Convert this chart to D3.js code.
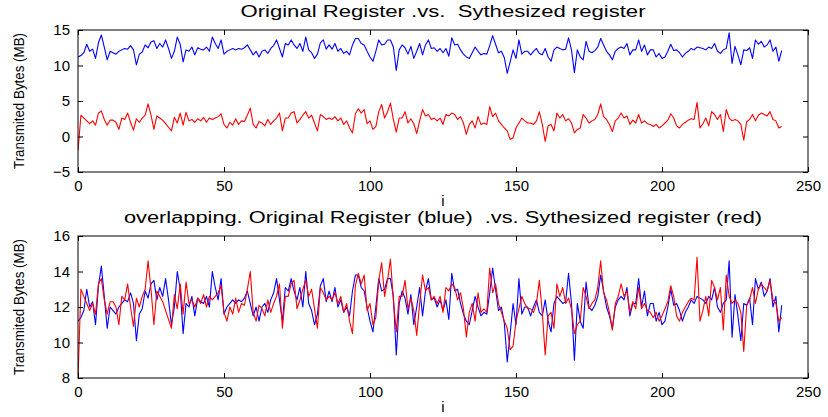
<!DOCTYPE html>
<html><head><meta charset="utf-8">
<script src="https://cdn.jsdelivr.net/npm/d3@7/dist/d3.min.js"></script>
<style>
body{margin:0;background:#fff;}
svg{display:block;}
text{font-family:"Liberation Sans",Arial,sans-serif;fill:#000;}
</style>
</head><body>
<svg id="chart" width="828" height="417"></svg>
<script>
// Original register (blue)
const original = [
11.2,11.4,11.8,13.0,12.0,12.3,11.0,13.2,14.3,12.6,10.8,12.0,11.8,11.6,12.0,12.2,12.4,12.3,12.8,12.2,
10.1,11.6,11.9,12.9,12.5,13.3,13.5,12.4,13.1,12.6,13.6,12.4,11.0,12.0,14.0,13.0,10.5,12.2,12.0,12.6,
11.5,12.5,12.3,12.2,12.6,12.0,14.0,13.1,12.4,13.6,11.6,12.0,12.2,12.4,12.2,12.4,12.3,12.5,12.9,12.2,
11.5,12.0,11.2,12.0,12.2,11.7,12.4,12.8,13.6,12.4,11.2,13.1,12.9,13.6,12.9,12.4,13.1,12.0,14.0,12.2,
11.8,11.0,11.6,13.2,13.6,12.3,12.9,12.3,13.1,12.0,12.4,11.7,12.0,11.5,12.9,13.8,13.8,13.1,12.9,12.0,
11.2,10.6,12.0,13.6,12.9,13.0,13.6,13.6,12.6,9.3,12.2,12.9,12.5,11.6,12.7,11.0,12.0,13.1,11.5,12.9,
13.6,12.4,12.5,12.0,12.4,11.8,12.4,11.3,13.9,12.9,13.0,12.2,11.6,11.2,11.0,11.8,12.6,12.0,11.5,11.7,
11.6,12.8,14.2,13.0,11.8,12.0,11.1,8.9,10.5,12.2,11.0,13.6,11.6,12.0,12.0,11.5,12.0,12.4,11.7,11.5,
12.4,11.2,10.6,12.2,12.6,12.4,12.2,12.3,13.9,12.2,9.0,12.2,11.2,10.8,13.4,12.0,11.8,12.1,12.6,13.8,
12.9,12.0,11.5,10.8,12.0,12.4,12.6,12.4,13.1,11.5,12.2,12.2,13.6,12.0,12.9,11.5,12.2,12.2,11.2,11.7,
11.0,11.2,12.0,13.0,12.1,12.2,11.8,11.2,11.7,12.0,12.4,12.2,12.6,12.5,12.4,12.2,12.6,12.4,13.1,12.0,
11.7,12.2,12.4,14.6,10.3,12.7,11.5,10.1,12.2,12.1,12.5,11.0,13.6,13.0,13.4,12.6,12.9,13.6,12.0,12.6,
10.6,12.1
];
// Synthesized register (red), read from the lower (overlapping) panel
const synthesized = [
8.0,13.0,12.6,12.2,11.8,12.2,11.6,13.3,13.6,12.4,11.6,12.3,12.3,12.0,11.0,12.6,12.4,13.3,12.0,10.9,
12.5,12.0,12.6,13.0,14.6,13.0,11.0,12.9,12.6,12.3,11.8,11.3,10.8,12.7,11.9,13.3,11.6,13.4,12.2,12.4,
12.0,12.5,12.2,12.7,12.0,12.6,12.4,12.6,12.8,13.2,11.7,11.2,12.0,11.6,12.5,11.7,12.2,12.1,13.0,14.0,
11.7,11.2,12.1,11.9,11.5,12.4,11.7,12.2,12.6,13.3,10.8,12.6,12.6,13.3,13.5,11.9,12.4,13.0,13.5,12.6,
13.0,11.9,10.8,13.1,12.8,12.4,12.6,12.4,12.8,12.2,12.6,11.7,12.2,11.2,10.5,13.2,13.9,13.3,13.8,11.8,
12.2,11.0,11.4,13.5,14.5,12.6,13.5,14.7,12.4,10.6,12.6,12.6,13.5,11.9,12.5,11.8,10.4,12.2,13.8,12.9,
13.1,12.4,12.6,12.2,12.6,11.7,13.1,12.9,13.3,13.1,12.4,12.8,11.9,10.3,11.7,12.2,11.2,12.8,11.7,11.9,
11.7,14.2,12.8,13.3,12.2,11.7,11.2,10.8,9.6,9.8,11.2,11.9,12.6,12.2,11.9,11.9,11.7,12.2,13.5,11.7,
9.3,11.5,11.7,10.8,13.3,12.6,13.1,12.2,12.5,11.9,10.5,11.0,11.2,13.1,12.6,11.9,12.2,12.4,13.1,14.6,
12.8,12.4,11.7,10.7,12.2,12.6,13.3,12.6,12.9,11.7,12.3,11.9,13.1,11.9,12.2,11.8,11.7,11.4,11.7,11.2,
11.5,11.9,12.3,13.2,12.6,11.5,11.2,11.7,12.0,12.3,12.5,12.4,14.8,11.2,11.8,12.6,11.5,13.5,13.1,12.4,
13.1,10.7,13.8,12.6,12.2,12.4,12.2,11.7,9.5,12.1,12.4,13.1,12.2,13.0,13.3,13.1,12.9,13.5,12.4,12.2,
11.2,11.4
];
// In the upper panel the synthesized register is drawn shifted down by 10
const synthesizedShiftTop = -10;

const xTicks = [0, 50, 100, 150, 200, 250];
const xDomain = [0, 250];
const topYTicks = [-5, 0, 5, 10, 15];
const topYDomain = [-5, 15];
const bottomYTicks = [8, 10, 12, 14, 16];
const bottomYDomain = [8, 16];
const titles = [
  "Original Register .vs.  Sythesized register",
  "overlapping. Original Register (blue)  .vs. Sythesized register (red)"
];
const yLabelText = "Transmited Bytes (MB)";
const xLabelText = "i";

const svg = d3.select("#chart");
const left = 78, right = 808;
const x = d3.scaleLinear().domain(xDomain).range([left, right]);

const panels = [
  {top: 30, bottom: 172, domain: topYDomain, ticks: topYTicks, title: titles[0], titleLen: 405,
   series: [{data: original, shift: 0, color: "#0000ff"},
            {data: synthesized, shift: synthesizedShiftTop, color: "#ff0000"}]},
  {top: 236, bottom: 378, domain: bottomYDomain, ticks: bottomYTicks, title: titles[1], titleLen: 638,
   series: [{data: original, shift: 0, color: "#0000ff"},
            {data: synthesized, shift: 0, color: "#ff0000"}]}
];

panels.forEach((p, k) => {
  const y = d3.scaleLinear().domain(p.domain).range([p.bottom, p.top]);
  const g = svg.append("g");
  const clipId = "clip" + k;
  svg.append("clipPath").attr("id", clipId).append("rect")
    .attr("x", left).attr("y", p.top).attr("width", right - left).attr("height", p.bottom - p.top);

  const line = d3.line().x((d, i) => x(i)).y(d => y(d));
  p.series.forEach(s => {
    g.append("path")
      .datum(s.data.map(v => v + s.shift))
      .attr("clip-path", `url(#${clipId})`)
      .attr("fill", "none")
      .attr("stroke", s.color)
      .attr("stroke-width", 1.1)
      .attr("stroke-linejoin", "round")
      .attr("d", line);
  });

  const styleAxis = sel => {
    sel.select(".domain").remove();
    sel.selectAll(".tick line").attr("stroke", "#000").attr("stroke-width", 1);
    sel.selectAll("text").attr("font-size", 15).attr("font-family", '"Liberation Sans",Arial,sans-serif').attr("fill", "#000");
  };

  g.append("g").attr("transform", `translate(0,${p.bottom})`)
    .call(d3.axisBottom(x).tickValues(xTicks).tickSize(-5).tickPadding(8)).call(styleAxis);
  g.append("g").attr("transform", `translate(0,${p.top})`)
    .call(d3.axisTop(x).tickValues(xTicks).tickSize(-5).tickFormat("")).call(styleAxis);
  g.append("g").attr("transform", `translate(${left},0)`)
    .call(d3.axisLeft(y).tickValues(p.ticks).tickSize(-5).tickPadding(8)).call(styleAxis);
  g.append("g").attr("transform", `translate(${right},0)`)
    .call(d3.axisRight(y).tickValues(p.ticks).tickSize(-5).tickFormat("")).call(styleAxis);

  g.append("rect").attr("x", left).attr("y", p.top).attr("width", right - left).attr("height", p.bottom - p.top)
    .attr("fill", "none").attr("stroke", "#000").attr("stroke-width", 1);

  g.append("text").attr("x", (left + right) / 2).attr("y", p.top - 13)
    .attr("text-anchor", "middle").attr("font-size", 16)
    .attr("textLength", p.titleLen).attr("lengthAdjust", "spacingAndGlyphs")
    .style("white-space", "pre").text(p.title);

  g.append("text").attr("x", (left + right) / 2).attr("y", p.bottom + 34)
    .attr("text-anchor", "middle").attr("font-size", 15).text(xLabelText);

  const cy = (p.top + p.bottom) / 2;
  g.append("text").attr("transform", `translate(24,${cy}) rotate(-90)`)
    .attr("text-anchor", "middle").attr("font-size", 14)
    .attr("textLength", 136).attr("lengthAdjust", "spacingAndGlyphs")
    .text(yLabelText);
});
</script>
</body></html>
